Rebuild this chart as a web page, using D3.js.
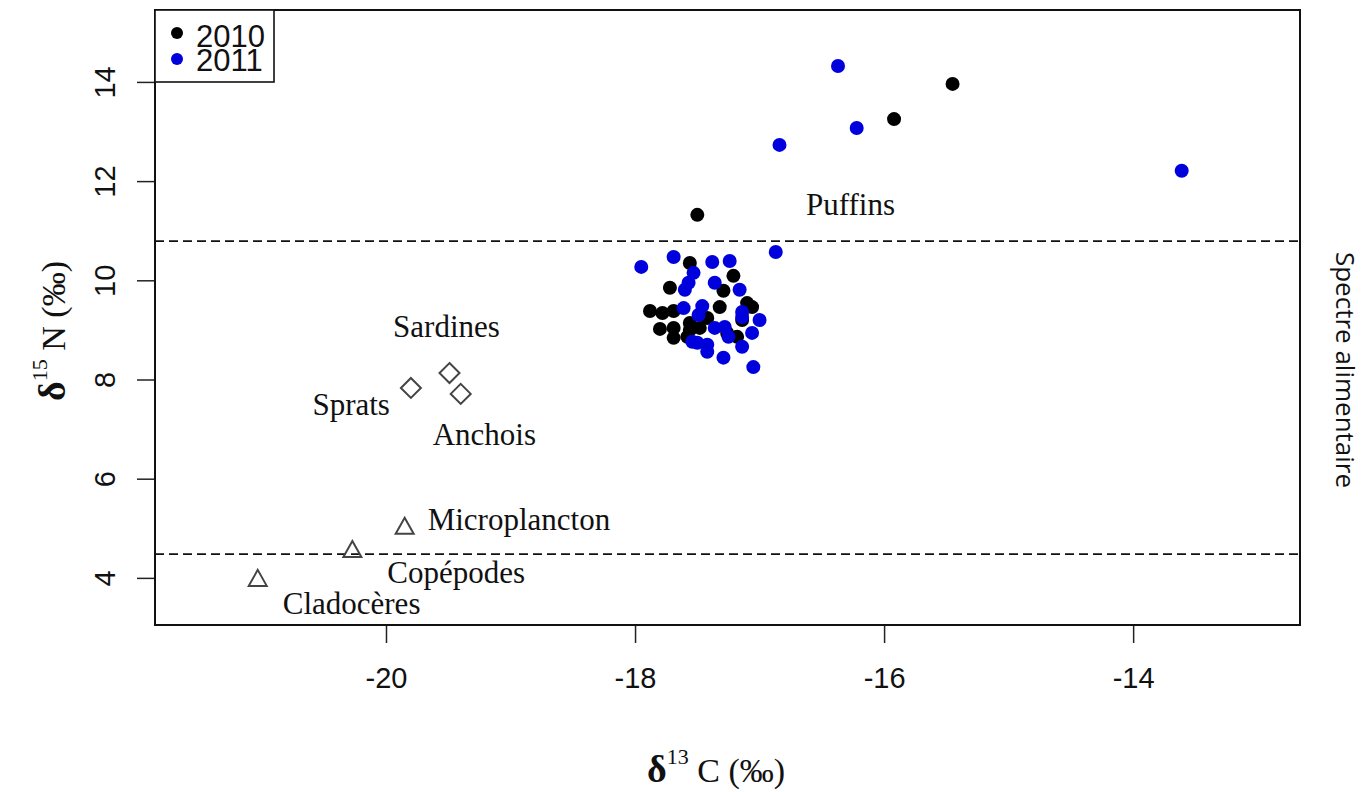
<!DOCTYPE html>
<html>
<head>
<meta charset="utf-8">
<script src="https://cdn.jsdelivr.net/npm/d3@7"></script>
<style>
  body { margin: 0; background: #fff; }
  svg { display: block; }
</style>
</head>
<body>
<script>
// isotope values
var x2010 = [-17.56, -17.21, -17.72, -17.29, -17.88, -17.78, -17.69, -17.32, -17.10, -17.06,
             -17.80, -17.69, -17.69, -17.58, -17.56, -17.48, -17.42, -17.14, -17.18, -17.26,
             -17.56, -17.50, -15.92, -15.45];
var y2010 = [10.35, 10.09, 9.85, 9.79, 9.38, 9.34, 9.38, 9.46, 9.54, 9.46,
             9.02, 9.04, 8.84, 8.86, 9.14, 9.04, 9.24, 9.20, 8.86, 8.94,
             9.00, 11.32, 13.25, 13.96];
var x2011 = [-17.69, -17.38, -17.24, -17.53, -17.57, -17.60, -17.36, -17.16, -17.61, -17.46,
             -17.49, -17.14, -17.14, -17.00, -17.06, -17.36, -17.28, -17.25, -17.50, -17.42,
             -17.42, -17.14, -17.29, -17.05, -17.54, -17.95, -16.87, -16.84, -16.37, -16.22,
             -13.61];
var y2011 = [10.47, 10.37, 10.39, 10.15, 9.95, 9.81, 9.95, 9.81, 9.44, 9.48,
             9.30, 9.36, 9.26, 9.20, 8.94, 9.04, 9.06, 8.86, 8.74, 8.70,
             8.56, 8.66, 8.44, 8.25, 8.76, 10.27, 10.57, 12.73, 14.32, 13.07,
             12.21];

var preyNames = ["Sprats", "Sardines", "Anchois", "Microplancton", "Copépodes", "Cladocères"];
var preyX = [-19.80, -19.49, -19.40, -19.85, -20.27, -21.03];
var preyY = [7.83, 8.13, 7.71, 5.03, 4.56, 3.98];
var preyShape = ["diamond", "diamond", "diamond", "triangle", "triangle", "triangle"];

var xTicks = [-20, -18, -16, -14];
var yTicks = [4, 6, 8, 10, 12, 14];
var limits = [4.48, 10.79];   // dashed lines of the food spectrum
var years = ["2010", "2011"];
var yearColors = ["#000000", "#0000dd"];

var w = 1366, h = 792;
var pLeft = 155, pRight = 1300, pTop = 10, pBottom = 625;

var x = d3.scaleLinear().domain([-21.855, -12.66]).range([pLeft, pRight]);
var y = d3.scaleLinear().domain([3.05, 15.45]).range([pBottom, pTop]);

var svg = d3.select("body").append("svg")
  .attr("width", w)
  .attr("height", h);

// label placement (pixels from the point)
var labelOffset = {
  "Sprats":        [-21, 27, "end"],
  "Sardines":      [-3, -36, "middle"],
  "Anchois":       [-28, 51, "start"],
  "Microplancton": [23, 3, "start"],
  "Copépodes":     [35, 33, "start"],
  "Cladocères":    [25, 35, "start"]
};

// dashed limits
svg.selectAll("line.limit")
  .data(limits)
  .enter()
  .append("line")
  .attr("class", "limit")
  .attr("x1", pLeft)
  .attr("x2", pRight)
  .attr("y1", function(d) { return y(d); })
  .attr("y2", function(d) { return y(d); })
  .attr("stroke", "#111")
  .attr("stroke-width", 1.6)
  .attr("stroke-dasharray", "9,5");

// axes
var fontSans = "'Liberation Sans', Arial, sans-serif";
var fontSerif = "'Liberation Serif', 'Times New Roman', serif";

var gx = svg.append("g")
  .attr("transform", "translate(0," + pBottom + ")")
  .call(d3.axisBottom(x).tickValues(xTicks).tickSize(18).tickPadding(24).tickFormat(d3.format("d")));
gx.select(".domain").remove();
gx.selectAll("line").attr("stroke", "#222").attr("stroke-width", 1.5);
gx.selectAll("text")
  .attr("font-family", fontSans)
  .attr("font-size", "29px")
  .attr("fill", "#111")
  .text(function(d) { return "-" + Math.abs(d); });

var gy = svg.append("g")
  .attr("transform", "translate(" + pLeft + ",0)")
  .call(d3.axisLeft(y).tickValues(yTicks).tickSize(18));
gy.select(".domain").remove();
gy.selectAll("line").attr("stroke", "#222").attr("stroke-width", 1.5);
gy.selectAll("text")
  .attr("font-family", fontSans)
  .attr("font-size", "29px")
  .attr("fill", "#111")
  .attr("text-anchor", "middle")
  .attr("transform", "rotate(-90)")
  .attr("x", 0)
  .attr("y", -40)
  .attr("dy", 0);

// frame
svg.append("rect")
  .attr("x", pLeft)
  .attr("y", pTop)
  .attr("width", pRight - pLeft)
  .attr("height", pBottom - pTop)
  .attr("fill", "none")
  .attr("stroke", "#111")
  .attr("stroke-width", 2);

// prey
var prey = svg.selectAll("g.prey")
  .data(preyNames)
  .enter()
  .append("g")
  .attr("class", "prey")
  .attr("transform", function(d, i) {
    return "translate(" + x(preyX[i]) + "," + y(preyY[i]) + ")";
  });

prey.append("path")
  .attr("d", function(d, i) {
    if (preyShape[i] == "diamond") return "M0,-10L10,0L0,10L-10,0Z";
    return "M0,-9L9,7L-9,7Z";
  })
  .attr("fill", "none")
  .attr("stroke", "#444")
  .attr("stroke-width", 2);

prey.append("text")
  .text(function(d) { return d; })
  .attr("x", function(d) { return labelOffset[d][0]; })
  .attr("y", function(d) { return labelOffset[d][1]; })
  .attr("text-anchor", function(d) { return labelOffset[d][2]; })
  .attr("font-family", fontSerif)
  .attr("font-size", "31px")
  .attr("fill", "#111");

// puffins
svg.append("text")
  .text("Puffins")
  .attr("x", x(-16.27))
  .attr("y", y(11.32))
  .attr("text-anchor", "middle")
  .attr("font-family", fontSerif)
  .attr("font-size", "31px")
  .attr("fill", "#111");

svg.selectAll("circle.y2010")
  .data(x2010)
  .enter()
  .append("circle")
  .attr("class", "y2010")
  .attr("cx", function(d) { return x(d); })
  .attr("cy", function(d, i) { return y(y2010[i]); })
  .attr("r", 7)
  .attr("fill", yearColors[0]);

svg.selectAll("circle.y2011")
  .data(x2011)
  .enter()
  .append("circle")
  .attr("class", "y2011")
  .attr("cx", function(d) { return x(d); })
  .attr("cy", function(d, i) { return y(y2011[i]); })
  .attr("r", 7)
  .attr("fill", yearColors[1]);

// legend
var legend = svg.append("g");
legend.append("rect")
  .attr("x", pLeft)
  .attr("y", pTop)
  .attr("width", 119)
  .attr("height", 72)
  .attr("fill", "#fff")
  .attr("stroke", "#111")
  .attr("stroke-width", 1.6);

legend.selectAll("circle")
  .data(years)
  .enter()
  .append("circle")
  .attr("cx", pLeft + 22)
  .attr("cy", function(d, i) { return pTop + 23 + i * 26; })
  .attr("r", 6)
  .attr("fill", function(d, i) { return yearColors[i]; });

legend.selectAll("text")
  .data(years)
  .enter()
  .append("text")
  .text(function(d) { return d; })
  .attr("x", pLeft + 41)
  .attr("y", function(d, i) { return pTop + 37 + i * 24; })
  .attr("font-family", fontSans)
  .attr("font-size", "31px")
  .attr("fill", "#111");

// axis titles
var xt = svg.append("text")
  .attr("x", 716)
  .attr("y", 782)
  .attr("text-anchor", "middle")
  .attr("font-family", fontSerif)
  .attr("fill", "#111");
xt.append("tspan").attr("font-weight", "bold").attr("font-size", "38px").text("δ");
xt.append("tspan").attr("font-size", "22px").attr("dy", -18).text("13");
xt.append("tspan").attr("font-size", "34px").attr("dy", 18).text(" C (‰)");

var yt = svg.append("text")
  .attr("transform", "translate(65,331) rotate(-90)")
  .attr("text-anchor", "middle")
  .attr("font-family", fontSerif)
  .attr("fill", "#111");
yt.append("tspan").attr("font-weight", "bold").attr("font-size", "38px").text("δ");
yt.append("tspan").attr("font-size", "22px").attr("dy", -18).text("15");
yt.append("tspan").attr("font-size", "34px").attr("dy", 18).text(" N (‰)");

svg.append("text")
  .text("Spectre alimentaire")
  .attr("transform", "translate(1336,370) rotate(90)")
  .attr("text-anchor", "middle")
  .attr("font-family", "'Open Sans', sans-serif")
  .attr("font-size", "26px")
  .attr("fill", "#111");
</script>
</body>
</html>
